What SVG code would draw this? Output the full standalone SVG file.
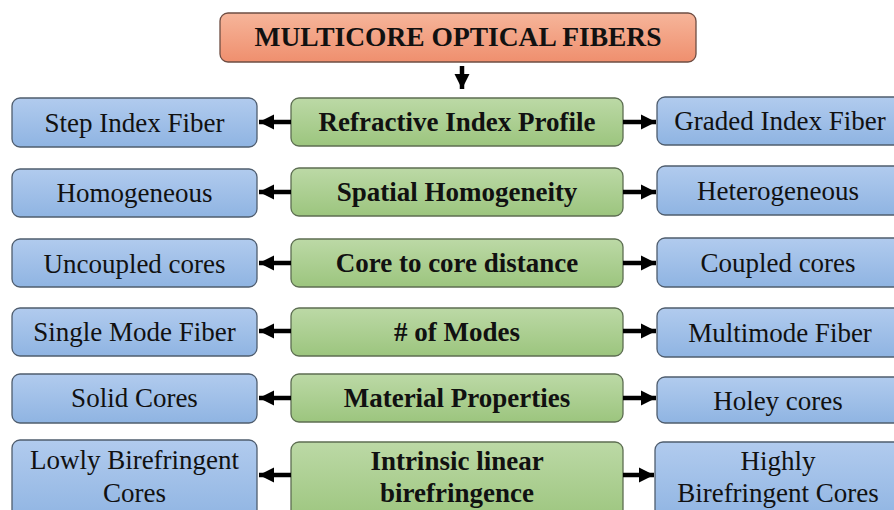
<svg xmlns="http://www.w3.org/2000/svg" width="894" height="510" viewBox="0 0 894 510">
<defs>
<linearGradient id="gBlue" x1="0" y1="0" x2="0" y2="1"><stop offset="0" stop-color="#b1cbee"/><stop offset="1" stop-color="#8fb4e2"/></linearGradient>
<linearGradient id="gGreen" x1="0" y1="0" x2="0" y2="1"><stop offset="0" stop-color="#bcd9a6"/><stop offset="1" stop-color="#9cc57e"/></linearGradient>
<linearGradient id="gRed" x1="0" y1="0" x2="0" y2="1"><stop offset="0" stop-color="#f6b59a"/><stop offset="1" stop-color="#ef8f6e"/></linearGradient>
<marker id="ah" markerUnits="userSpaceOnUse" markerWidth="16" markerHeight="18" refX="15" refY="9" orient="auto"><path d="M0,1.5 L15,9 L0,16.5 Z" fill="#000"/></marker>
</defs>
<style>
.blue{fill:url(#gBlue);stroke:#4f5d6e;stroke-width:1.3}
.green{fill:url(#gGreen);stroke:#5d6e52;stroke-width:1.3}
.red{fill:url(#gRed);stroke:#6e4d43;stroke-width:1.3}
.t{font-family:"Liberation Serif","Times New Roman",serif;font-size:27px;fill:#111;text-anchor:middle}
.b{font-weight:bold}
.c{stroke:#000;stroke-width:4.5;fill:none;marker-end:url(#ah)}
</style>
<g id="title"><rect class="red" x="220" y="13" width="476" height="49" rx="8"/><text class="t b" x="458" y="46" style="font-size:27.5px">MULTICORE OPTICAL FIBERS</text></g>

<g id="r1c"><rect class="green" x="291" y="98" width="332" height="48" rx="8"/><text class="t b" x="457" y="131">Refractive Index Profile</text></g>
<g id="r1l"><rect class="blue" x="12" y="98" width="245" height="49" rx="8"/><text class="t" x="134.5" y="132">Step Index Fiber</text></g>
<g id="r1r"><rect class="blue" x="657" y="97" width="245" height="48" rx="8"/><text class="t" x="780" y="130">Graded Index Fiber</text></g>

<g id="r2c"><rect class="green" x="291" y="168" width="332" height="48" rx="8"/><text class="t b" x="457" y="201">Spatial Homogeneity</text></g>
<g id="r2l"><rect class="blue" x="12" y="169" width="245" height="48" rx="8"/><text class="t" x="134.5" y="202">Homogeneous</text></g>
<g id="r2r"><rect class="blue" x="657" y="166" width="245" height="49" rx="8"/><text class="t" x="778" y="200">Heterogeneous</text></g>

<g id="r3c"><rect class="green" x="291" y="239" width="332" height="48" rx="8"/><text class="t b" x="457" y="272">Core to core distance</text></g>
<g id="r3l"><rect class="blue" x="12" y="239" width="245" height="48" rx="8"/><text class="t" x="134.5" y="273">Uncoupled cores</text></g>
<g id="r3r"><rect class="blue" x="657" y="238" width="245" height="49" rx="8"/><text class="t" x="778" y="272">Coupled cores</text></g>

<g id="r4c"><rect class="green" x="291" y="308" width="332" height="48" rx="8"/><text class="t b" x="457" y="341">#  of Modes</text></g>
<g id="r4l"><rect class="blue" x="12" y="308" width="245" height="48" rx="8"/><text class="t" x="134.5" y="341">Single Mode Fiber</text></g>
<g id="r4r"><rect class="blue" x="657" y="308" width="245" height="49" rx="8"/><text class="t" x="780" y="342">Multimode Fiber</text></g>

<g id="r5c"><rect class="green" x="291" y="374" width="332" height="48" rx="8"/><text class="t b" x="457" y="407">Material Properties</text></g>
<g id="r5l"><rect class="blue" x="12" y="374" width="245" height="49" rx="8"/><text class="t" x="134.5" y="407">Solid Cores</text></g>
<g id="r5r"><rect class="blue" x="657" y="377" width="245" height="46" rx="8"/><text class="t" x="778" y="410">Holey cores</text></g>

<g id="r6c"><rect class="green" x="291" y="442" width="332" height="80" rx="8"/><text class="t b" x="457" y="470">Intrinsic linear</text><text class="t b" x="457" y="502">birefringence</text></g>
<g id="r6l"><rect class="blue" x="12" y="440" width="245" height="82" rx="8"/><text class="t" x="134.5" y="469">Lowly Birefringent</text><text class="t" x="134.5" y="502">Cores</text></g>
<g id="r6r"><rect class="blue" x="655" y="442" width="247" height="80" rx="8"/><text class="t" x="778" y="470">Highly</text><text class="t" x="778" y="502">Birefringent Cores</text></g>

<g id="connectors">
<line class="c" x1="462" y1="66" x2="462" y2="89"/>
<line class="c" x1="291" y1="122" x2="259" y2="122"/>
<line class="c" x1="623" y1="122" x2="656" y2="122"/>
<line class="c" x1="291" y1="192" x2="259" y2="192"/>
<line class="c" x1="623" y1="192" x2="656" y2="192"/>
<line class="c" x1="291" y1="263" x2="259" y2="263"/>
<line class="c" x1="623" y1="263" x2="656" y2="263"/>
<line class="c" x1="291" y1="331" x2="259" y2="331"/>
<line class="c" x1="623" y1="331" x2="656" y2="331"/>
<line class="c" x1="291" y1="398" x2="259" y2="398"/>
<line class="c" x1="623" y1="398" x2="656" y2="398"/>
<line class="c" x1="291" y1="475" x2="259" y2="475"/>
<line class="c" x1="623" y1="475" x2="654" y2="475"/>
</g>
</svg>
